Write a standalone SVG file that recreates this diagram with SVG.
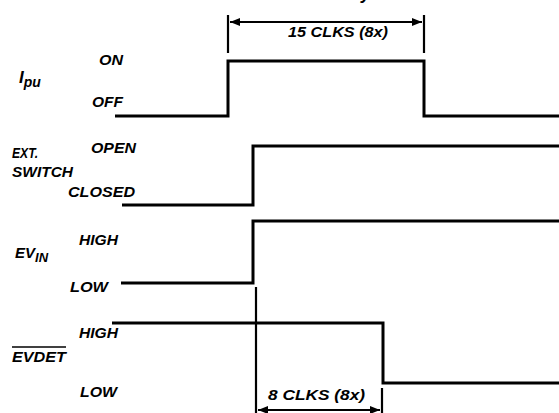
<svg xmlns="http://www.w3.org/2000/svg" width="559" height="413" viewBox="0 0 559 413">
<style>
text{font-family:"Liberation Sans",Arial,sans-serif;font-weight:bold;font-style:italic;fill:#000}
.lbl{font-size:14px}
.wave{fill:none;stroke:#000;stroke-width:3}
.tick{stroke:#000;stroke-width:2.2}
.dim{stroke:#000;stroke-width:2;marker-start:url(#ah);marker-end:url(#ah)}
</style>
<defs>
<marker id="ah" viewBox="0 0 10 8" refX="10" refY="4" markerWidth="5" markerHeight="4" orient="auto-start-reverse" markerUnits="strokeWidth">
<path d="M0,0 L10,4 L0,8 Z" fill="#000"/>
</marker>
</defs>
<rect width="559" height="413" fill="#fff"/>
<text x="361" y="-1" style="font-size:18px">y</text>
<g id="ipu">
<text x="19" y="83" style="font-size:17px">I<tspan dy="4" style="font-size:14px">pu</tspan></text>
<text class="lbl" x="99" y="65" textLength="24" lengthAdjust="spacingAndGlyphs">ON</text>
<text class="lbl" x="92" y="107" textLength="31" lengthAdjust="spacingAndGlyphs">OFF</text>
</g>
<g id="extswitch">
<text class="lbl" x="12" y="158" textLength="26" lengthAdjust="spacingAndGlyphs">EXT.</text>
<text class="lbl" x="12" y="177" textLength="61" lengthAdjust="spacingAndGlyphs">SWITCH</text>
<text class="lbl" x="91" y="153" textLength="45" lengthAdjust="spacingAndGlyphs">OPEN</text>
<text class="lbl" x="68" y="197" textLength="67" lengthAdjust="spacingAndGlyphs">CLOSED</text>
</g>
<g id="evin">
<text x="15" y="258" style="font-size:15px">EV<tspan dy="4" style="font-size:13px">IN</tspan></text>
<text class="lbl" x="79" y="245" textLength="39" lengthAdjust="spacingAndGlyphs">HIGH</text>
<text class="lbl" x="70" y="292" textLength="38" lengthAdjust="spacingAndGlyphs">LOW</text>
</g>
<g id="evdet">
<text class="lbl" x="12" y="362" textLength="54" lengthAdjust="spacingAndGlyphs">EVDET</text>
<line x1="12" y1="347" x2="66" y2="347" stroke="#000" stroke-width="1.5"/>
<text class="lbl" x="79" y="338" textLength="39" lengthAdjust="spacingAndGlyphs">HIGH</text>
<text class="lbl" x="80" y="397" textLength="37" lengthAdjust="spacingAndGlyphs">LOW</text>
</g>
<g id="connectors">
<polyline class="wave" points="115,116 228,116 228,61 424,61 424,116 559,116"/>
<polyline class="wave" points="122,205 253,205 253,146 559,146"/>
<polyline class="wave" points="121,283 253,283 253,221 559,221"/>
<polyline class="wave" points="112,323 383,323 383,383 559,383"/>
<line class="tick" x1="228" y1="15" x2="228" y2="53"/>
<line class="tick" x1="424" y1="15" x2="424" y2="53"/>
<line class="dim" x1="230" y1="22" x2="422" y2="22"/>
<text x="288" y="37" style="font-size:14px" textLength="100" lengthAdjust="spacingAndGlyphs">15 CLKS (8x)</text>
<line class="tick" x1="256" y1="287" x2="256" y2="413"/>
<line class="tick" x1="382" y1="388" x2="382" y2="413"/>
<line class="dim" x1="258" y1="410" x2="380" y2="410"/>
<text x="268" y="400" style="font-size:14px" textLength="97" lengthAdjust="spacingAndGlyphs">8 CLKS (8x)</text>
</g>
</svg>
